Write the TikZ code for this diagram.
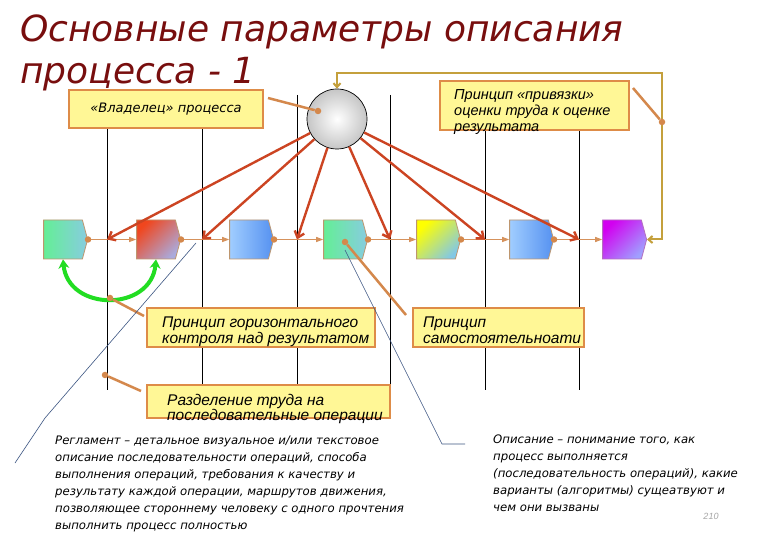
\documentclass[tikz,border=0pt]{standalone}
\usepackage{fontspec}
\usepackage{tikz}
\usetikzlibrary{shapes.symbols,arrows.meta}
\newfontfamily\vfont{DejaVu Sans}
\newfontfamily\afont{Liberation Sans}
\definecolor{titlec}{RGB}{120,14,14}
\definecolor{notefill}{RGB}{255,247,150}
\definecolor{notedraw}{RGB}{222,140,72}
\definecolor{ctrlc}{RGB}{204,68,34}
\definecolor{flowc}{RGB}{214,146,92}
\definecolor{callc}{RGB}{212,136,76}
\definecolor{fbc}{RGB}{196,160,60}
\definecolor{swapc}{RGB}{34,221,34}
\definecolor{leadc}{RGB}{60,85,130}
\definecolor{procline}{RGB}{190,150,110}
\definecolor{mintc}{RGB}{100,238,150}
\definecolor{tealc}{RGB}{136,204,224}
\definecolor{redc}{RGB}{240,70,30}
\definecolor{lavc}{RGB}{170,170,220}
\definecolor{lbluec}{RGB}{160,205,255}
\definecolor{dbluec}{RGB}{85,145,240}
\definecolor{yelc}{RGB}{255,255,0}
\definecolor{ybluec}{RGB}{130,200,230}
\definecolor{magc}{RGB}{210,0,240}
\definecolor{perc}{RGB}{160,160,255}
\definecolor{magline}{RGB}{180,110,190}

\begin{document}
\begin{tikzpicture}
[x=1pt,y=-1pt,
lane/.style={black,line width=0.7pt},
proc/.style={signal,signal to=east,signal pointer angle=150,minimum width=44pt,minimum height=39pt,inner sep=0pt,line width=0.8pt,draw=procline},
note/.style={draw=notedraw,fill=notefill,line width=1.8pt,inner sep=0pt},
lbl/.style={inner sep=0pt,anchor=north west,align=left,font=\afont\itshape\fontsize{15.5}{16}\selectfont},
small/.style={inner sep=0pt,anchor=north west,align=left,font=\vfont\itshape\fontsize{11.7}{17}\selectfont},
flow/.style={flowc,line width=1pt,-{Triangle[length=7pt,width=5pt]}},
ctrl/.style={ctrlc,line width=2.4pt,-{Straight Barb[length=6pt,width=10pt]}},
fb/.style={fbc,line width=2pt,{Straight Barb[length=4pt,width=7pt]}-{Straight Barb[length=4pt,width=7pt]}},
call/.style={callc,line width=2.5pt},
dot/.style={circle,fill=callc,inner sep=0pt,minimum size=6.5pt},
lead/.style={leadc,line width=0.6pt},
]

\useasboundingbox[fill=white] (0,0) rectangle (780,540);

% title
\node (title1) at (20,42)[anchor=base west,inner sep=0pt,text=titlec,font=\vfont\itshape\fontsize{36}{42}\selectfont]{Основные параметры описания};
\node (title2) at (20,84)[anchor=base west,inner sep=0pt,text=titlec,font=\vfont\itshape\fontsize{36}{42}\selectfont]{процесса - 1};

% lanes
\draw[lane] (107,95) -- (107,390);
\draw[lane] (202,95) -- (202,390);
\draw[lane] (297,95) -- (297,390);
\draw[lane] (390,95) -- (390,390);
\draw[lane] (485,95) -- (485,390);
\draw[lane] (579,95) -- (579,390);

\coordinate (m1) at (107,239.5);
\coordinate (m2) at (202,239.5);
\coordinate (m3) at (297,239.5);
\coordinate (m4) at (390,239.5);
\coordinate (m5) at (485,239.5);
\coordinate (m6) at (579,239.5);

% owner
\node (own) at (337,119)[circle,draw=black,line width=0.7pt,minimum size=60pt,inner sep=0pt,inner color=white,outer color=gray!45]{};

% notes
\node (boxA) at (166,109)[note,minimum width=194pt,minimum height=38pt,font=\vfont\itshape\fontsize{13}{15}\selectfont]{«Владелец» процесса};
\node (boxB) at (534.5,105.5)[note,minimum width=189pt,minimum height=49pt]{};
\node (boxC) at (261,327.5)[note,minimum width=228pt,minimum height=39pt]{};
\node (boxD) at (498.5,327.5)[note,minimum width=171pt,minimum height=39pt]{};
\node (boxE) at (268.5,401.5)[note,minimum width=243pt,minimum height=33pt]{};

\node (txtB) at (454,89.5)[lbl,font=\afont\itshape\fontsize{14.5}{16}\selectfont]{Принцип «привязки»\\оценки труда к оценке\\результата};
\node (txtC) at (162,316.5)[lbl]{Принцип горизонтального\\контроля над результатом};
\node (txtD) at (423,316.5)[lbl]{Принцип\\самостоятельноати};
\node (txtE) at (167,394)[lbl,font=\afont\itshape\fontsize{15.5}{15}\selectfont]{Разделение труда на\\последовательные операции};

% process steps
\node (p1) at (63,239.5)[proc,left color=mintc,right color=tealc]{};
\node (p2) at (156,239.5)[proc,top color=redc,bottom color=lavc,shading angle=45]{};
\node (p3) at (249,239.5)[proc,left color=lbluec,right color=dbluec]{};
\node (p4) at (343,239.5)[proc,left color=mintc,right color=tealc]{};
\node (p5) at (436,239.5)[proc,top color=yelc,bottom color=ybluec,shading angle=45]{};
\node (p6) at (529,239.5)[proc,left color=lbluec,right color=dbluec]{};
\node (p7) at (622,239.5)[proc,draw=magline,top color=magc,bottom color=perc,shading angle=45]{};

\node[dot] (d1) at (p1.east){};
\node[dot] (d2) at (p2.east){};
\node[dot] (d3) at (p3.east){};
\node[dot] (d4) at (p4.east){};
\node[dot] (d5) at (p5.east){};
\node[dot] (d6) at (p6.east){};

\draw[flow] (d1) -- (p2.west);
\draw[flow] (d2) -- (p3.west);
\draw[flow] (d3) -- (p4.west);
\draw[flow] (d4) -- (p5.west);
\draw[flow] (d5) -- (p6.west);
\draw[flow] (d6) -- (p7.west);

% control from owner
\draw[ctrl] (own) -- (m1);
\draw[ctrl] (own) -- (m2);
\draw[ctrl] (own) -- (m3);
\draw[ctrl] (own) -- (m4);
\draw[ctrl] (own) -- (m5);
\draw[ctrl] (own) -- (m6);

% feedback loop
\coordinate (fbtop) at (662,73);
\draw[fb] (own.north) |- (fbtop) |- (p7.east);

% horizontal control
\draw[swapc,line width=4pt,{Stealth[length=9pt,width=11pt]}-{Stealth[length=9pt,width=11pt]}] (p1.south) .. controls (68,312) and (151,312) .. (p2.south);

% callouts
\coordinate (cA) at (268,98);
\coordinate (cB) at (633,88);
\coordinate (cC) at (144,316);
\coordinate (cD) at (406,315);
\coordinate (cE) at (141,391);
\node[dot] (dA) at (318,111){};
\node[dot] (dB) at (662,122){};
\node[dot] (dC) at (110,298){};
\node[dot] (dD) at (345,242){};
\node[dot] (dE) at (105,375){};
\draw[call] (cA) -- (dA);
\draw[call] (cB) -- (dB);
\draw[call] (cC) -- (dC);
\draw[call] (cD) -- (dD);
\draw[call] (cE) -- (dE);

% leaders to the definitions
\coordinate (r1) at (196,243);
\coordinate (r2) at (45,418);
\coordinate (r3) at (15,463);
\draw[lead] (r1) -- (r2) -- (r3);
\coordinate (s1) at (345,250);
\coordinate (s2) at (442,444);
\coordinate (s3) at (465,444);
\draw[lead] (s1) -- (s2) -- (s3);

\node (regl) at (55,436)[small]{Регламент – детальное визуальное и/или текстовое\\описание последовательности операций, способа\\выполнения операций, требования к качеству и\\результату каждой операции, маршрутов движения,\\позволяющее стороннему человеку с одного прочтения\\выполнить процесс полностью};
\node (opis) at (493,434.5)[small]{Описание – понимание того, как\\процесс выполняется\\(последовательность операций), какие\\варианты (алгоритмы) сущеатвуют и\\чем они вызваны};
\node (pg) at (711,516)[text=gray!70,font=\afont\itshape\fontsize{9}{10}\selectfont]{210};

\end{tikzpicture}
\end{document}
